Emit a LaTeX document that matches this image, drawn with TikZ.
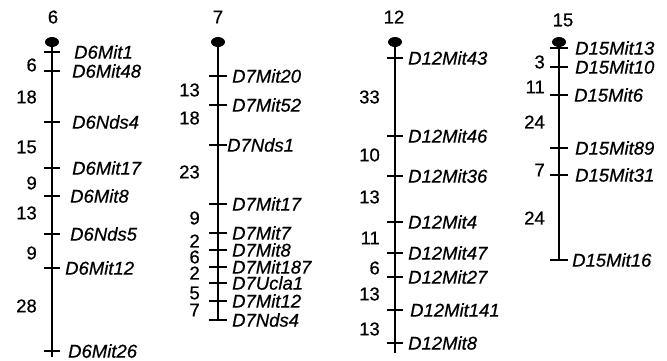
\documentclass[tikz,border=0pt]{standalone}
\usepackage{fontspec}
\setmainfont{Liberation Sans}[FakeBold=0.6, ItalicFeatures={FakeBold=0.6}]
\usetikzlibrary{shapes.geometric}

\begin{document}
\begin{tikzpicture}[x=1pt,y=-1pt,
    every node/.style={font=\fontsize{18.5}{20}\selectfont, inner sep=0pt},
    marker/.style={anchor=west, font=\fontsize{18.5}{20}\selectfont\itshape},
    dist/.style={anchor=east},
    chrtitle/.style={anchor=center},
    cent/.style={ellipse, fill=black, minimum width=14pt, minimum height=10pt},
    chrline/.style={line width=2.2pt},
    tick/.style={line width=2pt}]
  \useasboundingbox[fill=white] (0,0) rectangle (667,360);

  % chromosome 6
  \node[chrtitle] (t6) at (53,17) {6};
  \node[cent] (c6) at (52,42) {};
  \coordinate (e6) at (52,357);
  \draw[chrline] (c6.center) -- (e6);
  \foreach \y/\m/\dx in {52/D6Mit1/22, 71/D6Mit48/20, 122/D6Nds4/20, 168/D6Mit17/20,
      196/D6Mit8/18, 234/D6Nds5/18, 268/D6Mit12/13, 351/D6Mit26/16} {
    \draw[tick] (52-8,\y) -- (52+8,\y);
    \node[marker] (\m) at (52+\dx,\y) {\m};
  }
  \foreach \y/\d in {65/6, 97/18, 147/15, 183/9, 213/13, 253/9, 306/28}
    \node[dist] (d6-\y) at (37,\y) {\d};

  % chromosome 7
  \node[chrtitle] (t7) at (218,17) {7};
  \node[cent] (c7) at (218,42) {};
  \coordinate (e7) at (218,320);
  \draw[chrline] (c7.center) -- (e7);
  \foreach \y/\m/\dx in {76/D7Mit20/14, 105/D7Mit52/14, 145/D7Nds1/9, 204/D7Mit17/14,
      233/D7Mit7/14, 250/D7Mit8/14, 267/D7Mit187/14, 283/D7Ucla1/14,
      301/D7Mit12/14, 320/D7Nds4/14} {
    \draw[tick] (218-9,\y) -- (218+9,\y);
    \node[marker] (\m) at (218+\dx,\y) {\m};
  }
  \foreach \y/\d in {90/13, 118/18, 172/23, 218/9, 241/2, 257/6, 273/2, 293/5, 310/7}
    \node[dist] (d7-\y) at (200,\y) {\d};

  % chromosome 12
  \node[chrtitle] (t12) at (394,17) {12};
  \node[cent] (c12) at (395,42) {};
  \coordinate (e12) at (395,353);
  \draw[chrline] (c12.center) -- (e12);
  \foreach \y/\m/\dx in {58/D12Mit43/13, 136/D12Mit46/13, 176/D12Mit36/13, 222/D12Mit4/13,
      253/D12Mit47/13, 277/D12Mit27/13, 310/D12Mit141/15, 343/D12Mit8/13} {
    \draw[tick] (395-8,\y) -- (395+8,\y);
    \node[marker] (\m) at (395+\dx,\y) {\m};
  }
  \foreach \y/\d in {97/33, 155/10, 197/13, 238/11, 268/6, 294/13, 329/13}
    \node[dist] (d12-\y) at (380,\y) {\d};

  % chromosome 15
  \node[chrtitle] (t15) at (563,20) {15};
  \node[cent] (c15) at (559,42) {};
  \coordinate (e15) at (559,260);
  \draw[chrline] (c15.center) -- (e15);
  \foreach \y/\m/\dx in {48/D15Mit13/16, 67/D15Mit10/16, 95/D15Mit6/15, 148/D15Mit89/16,
      175/D15Mit31/16, 260/D15Mit16/13} {
    \draw[tick] (559-9,\y) -- (559+9,\y);
    \node[marker] (\m) at (559+\dx,\y) {\m};
  }
  \foreach \y/\d in {62/3, 87/11, 122/24, 170/7, 218/24}
    \node[dist] (d15-\y) at (545,\y) {\d};
\end{tikzpicture}
\end{document}
